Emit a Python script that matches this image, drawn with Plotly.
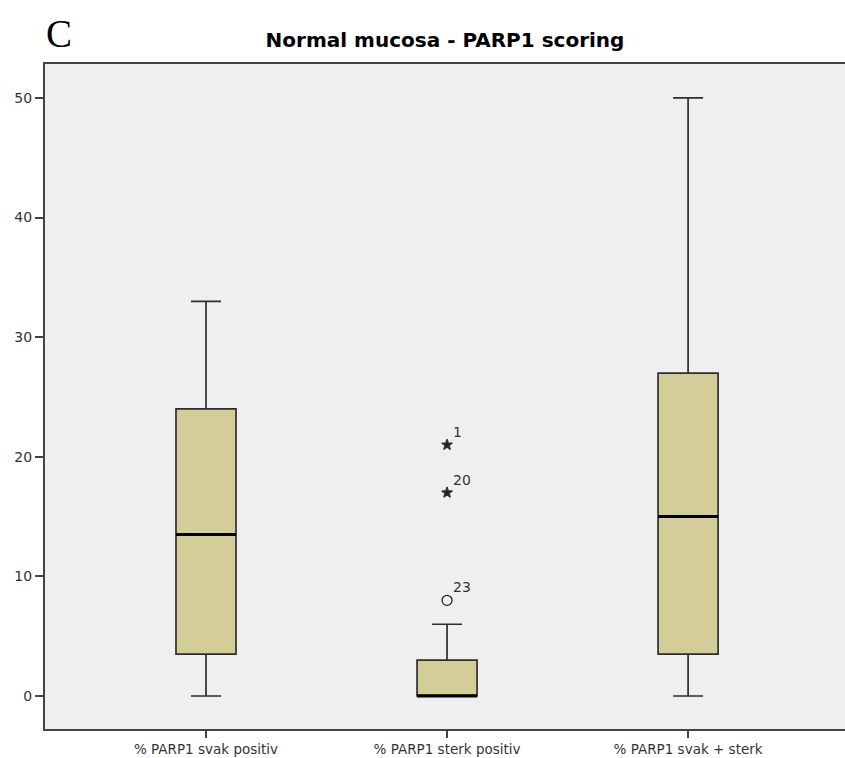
import plotly.graph_objects as go

categories = ["% PARP1 svak positiv", "% PARP1 sterk positiv", "% PARP1 svak + sterk"]
q1 = [3.5, 0, 3.5]
median = [13.5, 0, 15]
q3 = [24, 3, 27]
lower = [0, 0, 0]
upper = [33, 6, 50]

out_cat = [1, 1, 1]
out_val = [21, 17, 8]
out_lab = ["1", "20", "23"]
out_sym = ["star", "star", "circle-open"]

yticks = [0, 10, 20, 30, 40, 50]

BOX_W = 0.249
FILL = "#D3CE98"
LINE = "#2E2E2E"

fig = go.Figure()
for i, c in enumerate(categories):
    fig.add_trace(go.Box(
        x=[i], q1=[q1[i]], median=[median[i]], q3=[q3[i]],
        lowerfence=[lower[i]], upperfence=[upper[i]],
        width=BOX_W, whiskerwidth=0.5,
        fillcolor=FILL, line=dict(color=LINE, width=1.7),
        boxpoints=False, showlegend=False, hoverinfo="skip",
    ))
    fig.add_trace(go.Scatter(
        x=[i - BOX_W / 2, i + BOX_W / 2], y=[median[i], median[i]],
        mode="lines", line=dict(color="black", width=3),
        showlegend=False, hoverinfo="skip",
    ))

for cx, v, lab, sym in zip(out_cat, out_val, out_lab, out_sym):
    fig.add_trace(go.Scatter(
        x=[cx], y=[v], mode="markers",
        marker=dict(symbol=sym, size=8 if sym == "star" else 10,
                    color="#222222",
                    line=dict(color="#333333", width=1.3)),
        showlegend=False, hoverinfo="skip",
    ))
    fig.add_annotation(x=cx, y=v, text=lab, showarrow=False,
                       xanchor="left", yanchor="bottom", xshift=4, yshift=3,
                       font=dict(family="DejaVu Sans", size=14, color="#333333"))

fig.add_annotation(text="C", xref="paper", yref="paper", x=-0.001, y=1.0,
                   xanchor="left", yanchor="bottom", yshift=7, showarrow=False,
                   font=dict(family="Liberation Serif", size=39, color="black"))

fig.update_layout(
    width=845, height=758,
    margin=dict(l=45, r=0, t=64, b=29),
    paper_bgcolor="white", plot_bgcolor="#EFEFEF",
    title=dict(text="<b>Normal mucosa - PARP1 scoring</b>", x=0.5, xref="paper",
               y=1 - 40 / 758, yref="container", yanchor="middle", xanchor="center",
               font=dict(family="DejaVu Sans", size=20, color="black")),
    xaxis=dict(range=[-0.668, 2.651], tickvals=[0, 1, 2], ticktext=categories,
               showgrid=False, zeroline=False, showline=True, linecolor="#444444",
               linewidth=2, mirror=True, ticks="outside", ticklen=7, tickcolor="#444444",
               tickwidth=2, tickfont=dict(family="DejaVu Sans", size=13.5, color="#333333")),
    yaxis=dict(range=[-2.76, 52.84], tickvals=yticks, showgrid=False, zeroline=False,
               showline=True, linecolor="#444444", linewidth=2, ticks="outside",
               ticklen=8, tickcolor="#444444", tickwidth=2,
               tickfont=dict(family="DejaVu Sans", size=14, color="#333333")),
)

fig.write_html("out.html", config={"displayModeBar": False},
               post_script="document.body.style.margin='0';document.body.style.padding='0';")
